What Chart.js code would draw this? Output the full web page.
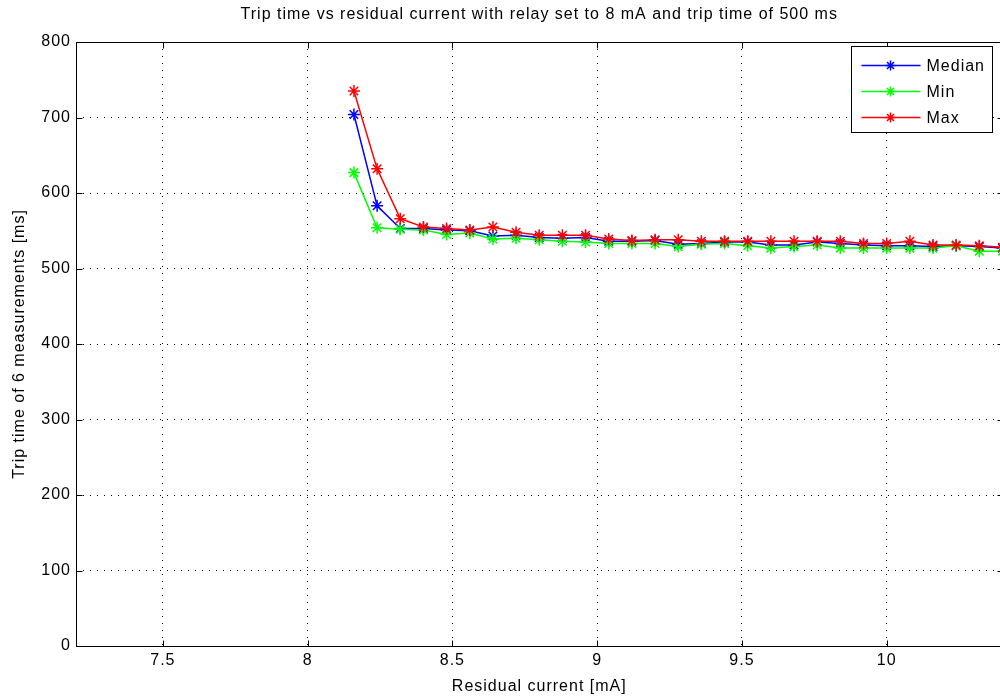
<!DOCTYPE html>
<html>
<head>
<meta charset="utf-8">
<script src="https://cdn.jsdelivr.net/npm/chart.js@4.4.0/dist/chart.umd.min.js"></script>
<style>
  body { margin: 0; overflow: hidden; background: #fff; }
</style>
</head>
<body>
<canvas id="tripChart" width="1010" height="697"></canvas>
<script>
// residual current steps [mA]
const currents = [
  8.16, 8.24, 8.32, 8.40, 8.48, 8.56, 8.64, 8.72, 8.80, 8.88,
  8.96, 9.04, 9.12, 9.20, 9.28, 9.36, 9.44, 9.52, 9.60, 9.68,
  9.76, 9.84, 9.92, 10.00, 10.08, 10.16, 10.24, 10.32, 10.40,
];
// trip times [ms]
const medianTimes = [
  704, 583, 553, 553, 551, 550, 543, 544, 541, 540,
  541, 536, 536, 537, 532, 533, 535, 535, 531, 531,
  535, 533, 531, 530, 530, 529, 530, 529, 527,
];
const minTimes = [
  627, 554, 552, 551, 545, 547, 539, 540, 538, 536,
  535, 533, 533, 533, 529, 532, 533, 530, 527, 529,
  531, 527, 527, 527, 527, 527, 530, 523, 523,
];
const maxTimes = [
  735, 632, 566, 555, 553, 551, 555, 548, 544, 544,
  544, 539, 537, 538, 538, 536, 536, 536, 536, 536,
  536, 536, 533, 533, 536, 531, 531, 530, 528,
];
const yTicks = [0, 100, 200, 300, 400, 500, 600, 700, 800];

const chartTitle = "Trip time vs residual current with relay set to 8 mA and trip time of 500 ms";
const fontFamily = "'Liberation Sans', Arial, Helvetica, sans-serif";
const fontSize = 16;
const spacing = "1px"; // old MATLAB screen text is a bit widely spaced

function toPoints(values) {
  return currents.map((c, i) => ({ x: c, y: values[i] }));
}

// keep the letter spacing on the context for measuring and drawing
const textSpacing = {
  id: "textSpacing",
  beforeInit(chart) { chart.ctx.letterSpacing = spacing; },
  beforeUpdate(chart) { chart.ctx.letterSpacing = spacing; },
  beforeDraw(chart) { chart.ctx.letterSpacing = spacing; },
};

// title centred over the axes like MATLAB does
const axesTitle = {
  id: "axesTitle",
  afterDraw(chart) {
    const { ctx, chartArea: a } = chart;
    ctx.save();
    ctx.font = fontSize + "px " + fontFamily;
    ctx.letterSpacing = spacing;
    ctx.fillStyle = "#000";
    ctx.textAlign = "center";
    ctx.textBaseline = "middle";
    ctx.fillText(chartTitle, (a.left + a.right) / 2, 15);
    ctx.restore();
  },
};

// draws the axes box and the inward tick marks
const framePlugin = {
  id: "frame",
  beforeDatasetsDraw(chart) {
    const { ctx, chartArea: a, scales } = chart;
    ctx.save();
    ctx.strokeStyle = "#000";
    ctx.lineWidth = 1;
    ctx.setLineDash([]);
    const l = Math.round(a.left) + 0.5, t = Math.round(a.top) + 0.5;
    const r = Math.round(a.right) + 0.5, b = Math.round(a.bottom) + 0.5;
    ctx.strokeRect(l, t, r - l, b - t);
    ctx.beginPath();
    scales.x.ticks.forEach((tk) => {
      const px = Math.round(scales.x.getPixelForValue(tk.value)) + 0.5;
      ctx.moveTo(px, b); ctx.lineTo(px, b - 6);
      ctx.moveTo(px, t); ctx.lineTo(px, t + 6);
    });
    scales.y.ticks.forEach((tk) => {
      const py = Math.round(scales.y.getPixelForValue(tk.value)) + 0.5;
      ctx.moveTo(l, py); ctx.lineTo(l + 6, py);
      ctx.moveTo(r, py); ctx.lineTo(r - 6, py);
    });
    ctx.stroke();
    ctx.restore();
  },
};

function drawStar(ctx, x, y, r) {
  ctx.beginPath();
  for (let k = 0; k < 4; k++) {
    const ang = (k * Math.PI) / 4;
    ctx.moveTo(x - r * Math.cos(ang), y - r * Math.sin(ang));
    ctx.lineTo(x + r * Math.cos(ang), y + r * Math.sin(ang));
  }
  ctx.stroke();
}

// MATLAB-style legend box in the top right corner
const boxLegend = {
  id: "boxLegend",
  afterDraw(chart) {
    const { ctx, chartArea: a } = chart;
    const w = 141, h = 86;
    const left = Math.round(a.right) - 11 - w + 0.5;
    const top = Math.round(a.top) + 4 + 0.5;
    ctx.save();
    ctx.fillStyle = "#fff";
    ctx.fillRect(left, top, w, h);
    ctx.strokeStyle = "#000";
    ctx.lineWidth = 1;
    ctx.strokeRect(left, top, w, h);
    ctx.font = fontSize + "px " + fontFamily;
    ctx.letterSpacing = spacing;
    ctx.textBaseline = "middle";
    chart.data.datasets.forEach((ds, i) => {
      const cy = Math.round(top + 18 + i * 26) + 0.5;
      ctx.strokeStyle = ds.borderColor;
      ctx.lineWidth = 1.5;
      ctx.beginPath();
      ctx.moveTo(left + 10, cy);
      ctx.lineTo(left + 69, cy);
      ctx.stroke();
      drawStar(ctx, left + 39, cy, 5);
      ctx.fillStyle = "#000";
      ctx.fillText(ds.label, left + 75, cy + 1);
    });
    ctx.restore();
  },
};

document.addEventListener("DOMContentLoaded", () => {
  const ctx = document.getElementById("tripChart").getContext("2d");
  const series = [
    { label: "Median", data: medianTimes, color: "#0000ff", order: 3 },
    { label: "Min", data: minTimes, color: "#00ff00", order: 2 },
    { label: "Max", data: maxTimes, color: "#ff0000", order: 1 },
  ];

  new Chart(ctx, {
    type: "line",
    data: {
      datasets: series.map((s) => ({
        label: s.label,
        data: toPoints(s.data),
        borderColor: s.color,
        backgroundColor: s.color,
        borderWidth: 1.5,
        pointStyle: "star",
        pointRadius: 6,
        pointBorderWidth: 1.5,
        pointBorderColor: s.color,
        tension: 0,
        fill: false,
        order: s.order,
      })),
    },
    options: {
      responsive: false,
      animation: false,
      layout: { padding: { left: 0, right: 6, top: 42, bottom: 0 } },
      plugins: {
        legend: { display: false },
        tooltip: { enabled: false },
        title: { display: false },
      },
      scales: {
        x: {
          type: "linear",
          min: 7.2,
          max: 10.4,
          afterFit: (s) => { s.height = 51; },
          ticks: {
            stepSize: 0.5,
            includeBounds: false,
            color: "#000",
            padding: 5,
            maxRotation: 0,
            font: { family: fontFamily, size: fontSize },
            callback: (v) => String(v),
          },
          grid: { color: "#000", lineWidth: 1, drawTicks: false },
          border: { display: false, dash: [1, 6] },
          title: {
            display: true,
            text: "Residual current [mA]",
            color: "#000",
            font: { family: fontFamily, size: fontSize },
            padding: { top: 0, bottom: 1 },
          },
        },
        y: {
          min: 0,
          max: 800,
          afterFit: (s) => { s.width = 76; },
          afterBuildTicks: (s) => { s.ticks = yTicks.map((v) => ({ value: v })); },
          ticks: {
            color: "#000",
            padding: 5,
            font: { family: fontFamily, size: fontSize },
          },
          grid: { color: "#000", lineWidth: 1, drawTicks: false },
          border: { display: false, dash: [1, 6] },
          title: {
            display: true,
            text: "Trip time of 6 measurements [ms]",
            color: "#000",
            font: { family: fontFamily, size: fontSize },
            padding: { top: 10, bottom: 0 },
          },
        },
      },
    },
    plugins: [textSpacing, framePlugin, boxLegend, axesTitle],
  });
});
</script>
</body>
</html>
